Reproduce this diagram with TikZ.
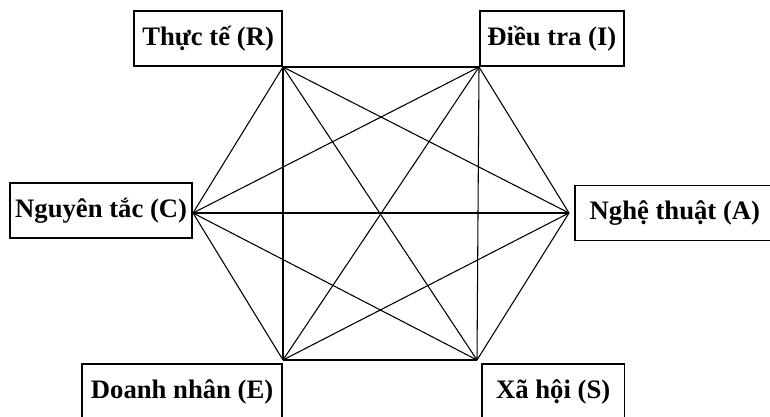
\documentclass[tikz,border=0pt]{standalone}
\usepackage{fontspec}
\setmainfont{Liberation Serif}
\tikzset{
  typebox/.style={draw, line width=1.3pt, minimum height=41.25pt, inner sep=0pt,
                  font=\bfseries\fontsize{20}{24}\selectfont},
  edge/.style={line width=0.8pt}
}
\begin{document}
\begin{tikzpicture}[x=0.75pt, y=-0.75pt]
        \useasboundingbox (0,0) rectangle (770,417);
        \clip (0,0) rectangle (770,417);
        % hexagon corners
        \coordinate (R) at (283,67);
        \coordinate (I) at (479,67);
        \coordinate (A) at (569,213);
        \coordinate (S) at (477,360);
        \coordinate (E) at (283,360);
        \coordinate (C) at (193,213);
        % every pair of types is joined
        \foreach \a/\b in {R/I, R/A, R/S, R/E, R/C, I/A, I/S, I/E, I/C,
                           A/S, A/E, A/C, S/E, S/C, E/C}
            \draw[edge] (\a) -- (\b);
        \node[typebox, minimum width=111pt, anchor=south east] (boxR) at (R) {Thực tế (R)};
        \node[typebox, minimum width=108pt, anchor=south west] (boxI) at (I) {Điều tra (I)};
        \node[typebox, minimum width=136.5pt, anchor=east] (boxC) at ([yshift=1.9pt]C) {Nguyên tắc (C)};
        \node[typebox, minimum width=150pt, anchor=west] (boxA) at ([xshift=3.75pt]A) {Nghệ thuật (A)};
        \node[typebox, minimum width=150pt, minimum height=42pt, anchor=north east] (boxE) at ([yshift=-2.25pt]E) {Doanh nhân (E)};
        \node[typebox, minimum width=107pt, minimum height=42pt, anchor=north west] (boxS) at ([xshift=3pt,yshift=-2.25pt]S) {Xã hội (S)};
    \end{tikzpicture}
\end{document}
